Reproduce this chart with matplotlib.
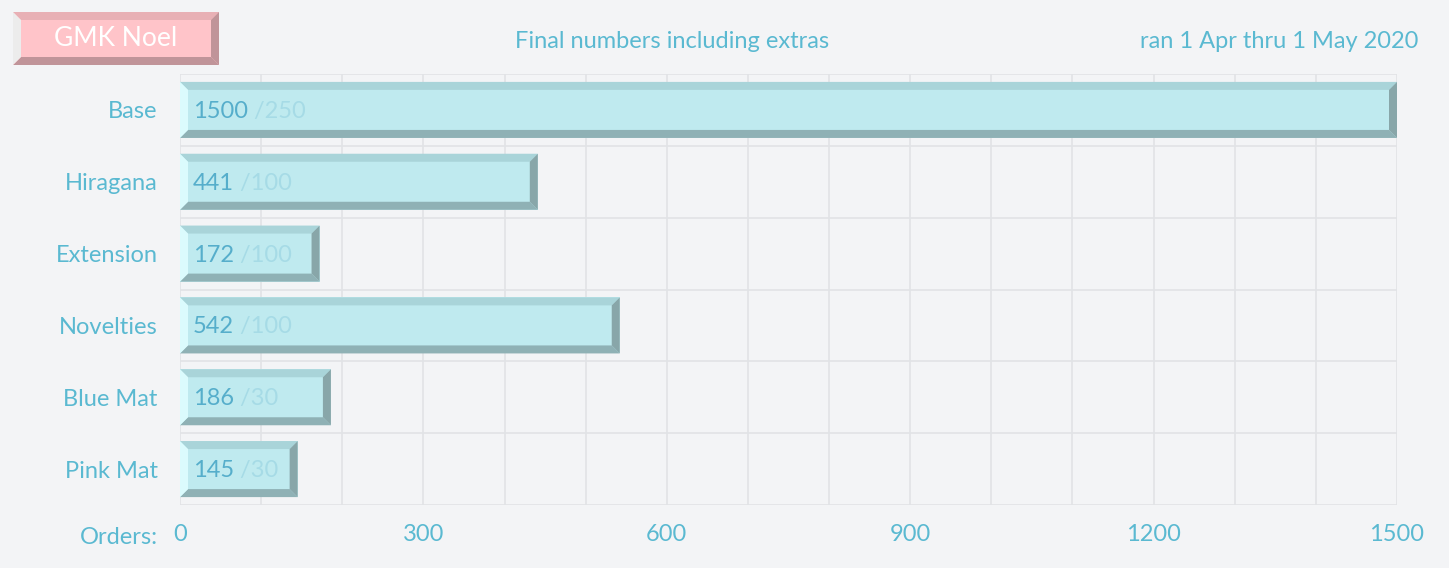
import matplotlib.pyplot as plt
from matplotlib.patches import Polygon

plt.rcParams['font.family'] = ['Lato', 'DejaVu Sans']

categories = ['Base', 'Hiragana', 'Extension', 'Novelties', 'Blue Mat', 'Pink Mat']
orders = [1500, 441, 172, 542, 186, 145]
moq = [250, 100, 100, 100, 30, 30]
xticks = [0, 300, 600, 900, 1200, 1500]

W, H = 1449, 568
BG = '#f3f4f6'
TXT = '#5ab9d1'
fig = plt.figure(figsize=(W / 100, H / 100), dpi=100)
fig.patch.set_facecolor(BG)
L, R, T, B = 180, 1397, 74, 505
ax = fig.add_axes([L / W, 1 - B / H, (R - L) / W, (B - T) / H])
ax.set_facecolor(BG)
ax.set_xlim(0, 1500)
ax.set_ylim(len(categories) - 0.5, -0.5)

for x in range(0, 1501, 100):
    ax.axvline(x, color='#e1e3e6', lw=1.2, zorder=0)
for i in range(len(categories) + 1):
    ax.axhline(i - 0.5, color='#e1e3e6', lw=1.2, zorder=0)
for s in ax.spines.values():
    s.set_visible(False)

px_x = 1500 / (R - L)
px_y = len(categories) / (B - T)
bev = 8
bx, by = bev * px_x, bev * px_y
hh = 0.39


def bevel_box(ax, x0, x1, y0, y1, dx, dy, face, top, bottom, left, right, **kw):
    # y0 is visual top, y1 visual bottom (in whatever coordinate system)
    ax.add_patch(Polygon([(x0, y0), (x0, y1), (x1, y1), (x1, y0)], closed=True, facecolor=face, edgecolor='none', **kw))
    ax.add_patch(Polygon([(x0, y0), (x1, y0), (x1 - dx, y0 + dy), (x0 + dx, y0 + dy)], facecolor=top, edgecolor='none', **kw))
    ax.add_patch(Polygon([(x0, y1), (x1, y1), (x1 - dx, y1 - dy), (x0 + dx, y1 - dy)], facecolor=bottom, edgecolor='none', **kw))
    ax.add_patch(Polygon([(x0, y0), (x0 + dx, y0 + dy), (x0 + dx, y1 - dy), (x0, y1)], facecolor=left, edgecolor='none', **kw))
    ax.add_patch(Polygon([(x1, y0), (x1 - dx, y0 + dy), (x1 - dx, y1 - dy), (x1, y1)], facecolor=right, edgecolor='none', **kw))


for i, (v, m) in enumerate(zip(orders, moq)):
    bevel_box(ax, 0, v, i - hh, i + hh, bx, by, '#bfeaef', '#a9d4d9', '#8fb1b5', '#dbfbfd', '#88a6a9', zorder=2)
    t = ax.text(16, i + 0.02, f'{v}', ha='left', va='center', fontsize=17, color='#56aecb', zorder=3)
    ax.annotate(f' /{m}', xycoords=t, xy=(1, 0.5), va='center', ha='left', fontsize=17,
                color='#a6dbe6', zorder=3)

ax.set_yticks(range(len(categories)))
ax.set_yticklabels(categories)
ax.set_xticks(xticks)
ax.tick_params(axis='both', length=0, labelsize=17, labelcolor=TXT)
ax.tick_params(axis='y', pad=16)
ax.tick_params(axis='x', pad=14)
fig.text(158 / W, 1 - 537 / H, 'Orders:', ha='right', va='center', fontsize=17, color=TXT)

# title badge
fa = fig.add_axes([0, 0, 1, 1], zorder=-1)
fa.set_xlim(0, W)
fa.set_ylim(H, 0)
fa.axis('off')
bevel_box(fa, 13, 219, 12, 65, 8, 8, '#ffc4c9', '#e8b0b5', '#c09499', '#ececec', '#c09499')
fa.text(116, 39, 'GMK Noel', ha='center', va='center', fontsize=19, color='white')
fig.text(672 / W, 1 - 42 / H, 'Final numbers including extras', ha='center', va='center', fontsize=17, color=TXT)
fig.text(1418 / W, 1 - 42 / H, 'ran 1 Apr thru 1 May 2020', ha='right', va='center', fontsize=17, color=TXT)

fig.savefig('out.png', dpi=100, facecolor=BG)
